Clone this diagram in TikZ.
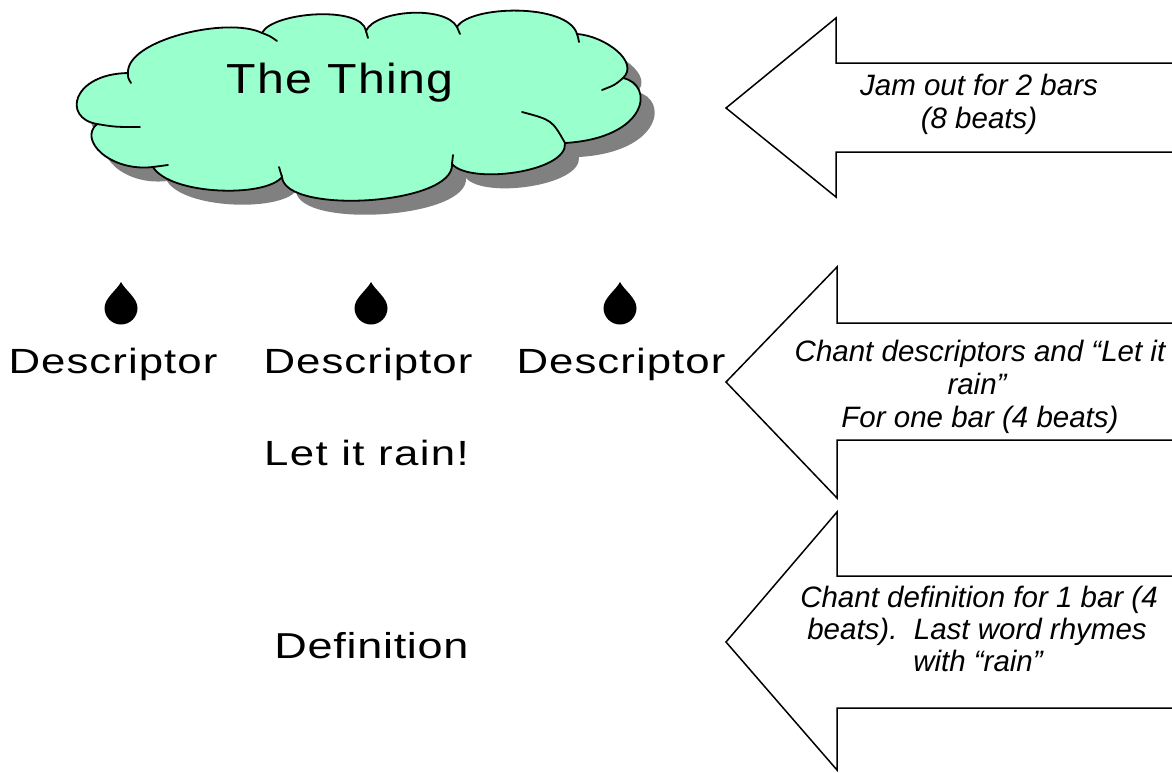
\documentclass[tikz,border=0pt]{standalone}
\usepackage{fontspec}
\setmainfont{Liberation Sans}
\newfontfamily\thingfont[FakeStretch=1.15,LetterSpace=3]{Liberation Sans}
\newfontfamily\descfont[FakeStretch=1.25,LetterSpace=3]{Liberation Sans}
\newfontfamily\rainfont[FakeStretch=1.25,LetterSpace=4]{Liberation Sans}
\newfontfamily\deffont[FakeStretch=1.25,LetterSpace=2]{Liberation Sans}
\definecolor{cloudgreen}{HTML}{99FFCC}
\definecolor{shadowgray}{HTML}{808080}
\newcommand\cloudoutline{(k1)
  .. controls (62,118) and (72,74) .. (k2)
  .. controls (126,40) and (228,16) .. (k3)
  .. controls (272,12) and (362,5) .. (k4)
  .. controls (375,10) and (445,5) .. (k5)
  .. controls (470,5) and (568,3) .. (k6)
  .. controls (605,36) and (640,62) .. (k7)
  .. controls (655,85) and (648,138) .. (k8)
  .. controls (568,172) and (470,185) .. (k9)
  .. controls (455,205) and (285,215) .. (k10)
  .. controls (265,198) and (170,195) .. (k11)
  .. controls (110,172) and (78,140) .. (k1) -- cycle}
\begin{document}
\begin{tikzpicture}[x=1pt,y=-1pt,
  arrowshape/.style={draw=black, line width=1.5pt, fill=white, line join=miter},
  armtext/.style={font=\fontsize{29.5}{33}\selectfont\itshape, anchor=base, inner sep=0pt},
  bigtext/.style={anchor=base, inner sep=0pt},
  cloudline/.style={draw=black, line width=1.8pt},
  raindrop/.pic={\fill[black] (0,-26) .. controls (4,-18) and (16.5,-10) .. (16.5,0)
      .. controls (16.5,9.1) and (9.1,16.5) .. (0,16.5)
      .. controls (-9.1,16.5) and (-16.5,9.1) .. (-16.5,0)
      .. controls (-16.5,-10) and (-4,-18) .. (0,-26) -- cycle;}]
\useasboundingbox (0,0) rectangle (1172,772);
\clip (0,0) rectangle (1172,772);
\fill[white] (0,0) rectangle (1172,772);

% cloud cusps
\coordinate (k1) at (97,124);
\coordinate (k2) at (128,73);
\coordinate (k3) at (262,33);
\coordinate (k4) at (366,31);
\coordinate (k5) at (457,27);
\coordinate (k6) at (577,34);
\coordinate (k7) at (623,78);
\coordinate (k8) at (565,143);
\coordinate (k9) at (452,164);
\coordinate (k10) at (282,177);
\coordinate (k11) at (153,167);

\fill[shadowgray, transform canvas={shift={(14pt,-14pt)}}] \cloudoutline;
\filldraw[fill=cloudgreen, cloudline] \cloudoutline;
% inner strokes of the cloud
\draw[cloudline, line cap=round] (k1) .. controls (115,127) .. (140,127);
\draw[cloudline, line cap=round] (k2) .. controls (128,78) .. (131,83);
\draw[cloudline, line cap=round] (k3) .. controls (270,36) .. (277,41);
\draw[cloudline, line cap=round] (k4) .. controls (367,34) .. (368,38);
\draw[cloudline, line cap=round] (k5) .. controls (458,30) .. (460,34);
\draw[cloudline, line cap=round] (k6) .. controls (578,37) .. (579,42);
\draw[cloudline, line cap=round] (k7) .. controls (615,85) .. (602,90);
\draw[cloudline, line cap=round] (k8) .. controls (552,120) .. (522,112);
\draw[cloudline, line cap=round] (k9) .. controls (452,160) .. (453,155);
\draw[cloudline, line cap=round] (k10) .. controls (281,172) .. (279,167);
\draw[cloudline, line cap=round] (k11) .. controls (160,166) .. (168,165);

\node[bigtext, font=\thingfont\fontsize{42}{48}\selectfont] (thing) at (340,93) {The Thing};

% rain drops
\pic (drop1) at (121,308) {raindrop};
\pic (drop2) at (371,308) {raindrop};
\pic (drop3) at (620,308) {raindrop};

\node[bigtext, font=\descfont\fontsize{35}{40}\selectfont] (desc1) at (113,373) {Descriptor};
\node[bigtext, font=\descfont\fontsize{35}{40}\selectfont] (desc2) at (368,373) {Descriptor};
\node[bigtext, font=\descfont\fontsize{35}{40}\selectfont] (desc3) at (621,373) {Descriptor};
\node[bigtext, font=\rainfont\fontsize{35}{40}\selectfont] (rain) at (366.5,465) {Let it rain!};
\node[bigtext, font=\deffont\fontsize{36}{40}\selectfont] (defn) at (371.5,658) {Definition};

% block arrows
\draw[arrowshape] (1185,63) -- (836,63) -- (836,18) -- (726,108) -- (836,197) -- (836,152) -- (1185,152);
\draw[arrowshape] (1185,323) -- (837,323) -- (837,267) -- (726,382) -- (837,498) -- (837,440) -- (1185,440);
\draw[arrowshape] (1185,576) -- (837,576) -- (837,512) -- (726,642) -- (837,770) -- (837,708) -- (1185,708);

\node[armtext] (a1a) at (979,95) {Jam out for 2 bars};
\node[armtext] (a1b) at (979,128) {(8 beats)};
\node[armtext] (a2a) at (980,361) {Chant descriptors and “Let it};
\node[armtext] (a2b) at (977,394) {rain”};
\node[armtext] (a2c) at (980,427) {For one bar (4 beats)};
\node[armtext] (a3a) at (979,607) {Chant definition for 1 bar (4};
\node[armtext] (a3b) at (977,639) {beats).\ \ Last word rhymes};
\node[armtext] (a3c) at (978,671) {with “rain”};
\end{tikzpicture}
\end{document}
